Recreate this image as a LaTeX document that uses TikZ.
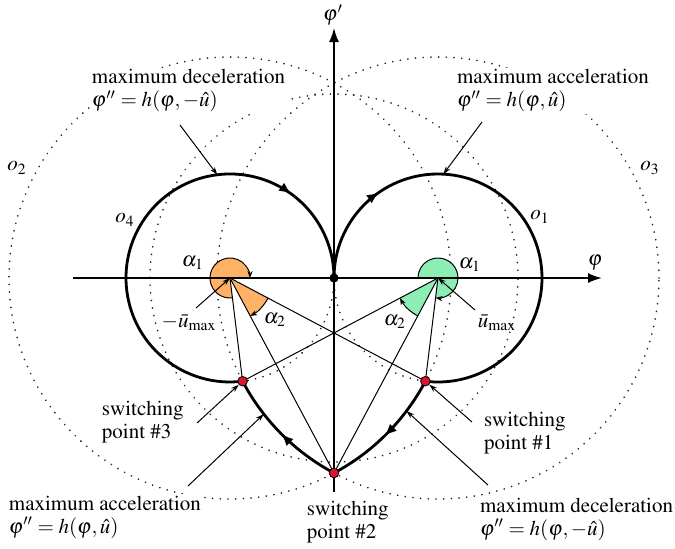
\documentclass[tikz,border=0pt]{standalone}
\usepackage[T1]{fontenc}
\usepackage{mathptmx}
\usetikzlibrary{arrows.meta,decorations.markings}
\definecolor{orng}{RGB}{255,178,102}
\definecolor{grn}{RGB}{140,238,180}
\definecolor{swred}{RGB}{220,20,50}
\begin{document}
\begin{tikzpicture}[x=0.5pt,y=0.5pt,
 every node/.style={font=\fontsize{10.5}{11.5}\selectfont},
 dotc/.style={line width=0.9pt, dash pattern=on 0.05pt off 3.8pt, line cap=round, black!85},
 traj/.style={line width=1.4pt},
 ray/.style={line width=0.5pt},
 axisline/.style={line width=0.9pt, -{Latex[length=7pt,width=5pt]}},
 lbl/.style={align=left, inner sep=0.8pt, fill=white},
 ptr/.style={line width=0.5pt, -{Stealth[length=4pt,width=2.6pt]}},
 angarr/.style={line width=0.5pt, -{Stealth[length=3.5pt,width=2.6pt]}},
 swpt/.style={circle, draw=black, line width=0.4pt, fill=swred, inner sep=0pt, minimum size=4.8pt},
 midarrow/.style={postaction={decorate}, decoration={markings, mark=at position #1 with {\arrow{Latex[length=6pt,width=5pt]}}}},
]
\useasboundingbox (-334,-270) rectangle (341,278);
% key points
\coordinate (O) at (0,0);
\coordinate (CL) at (-104,0);
\coordinate (CR) at (104,0);
\coordinate (S1) at (91.4,-103.2);
\coordinate (S3) at (-91.4,-103.2);
\coordinate (S2) at (0,-195);
% dotted circles
\draw[dotc] (CL) circle[radius=104];
\draw[dotc] (CR) circle[radius=104];
\draw[dotc] (CL) circle[radius=221];
\draw[dotc] (CR) circle[radius=221];
\draw[dotc] (O) circle[radius=184];
% angle sectors
\fill[orng] (CL) -- ++(0:20) arc[start angle=0, end angle=276.96, radius=20] -- cycle;
\fill[orng] (CL) -- ++(-27.84:43) arc[start angle=-27.84, end angle=-61.93, radius=43] -- cycle;
\fill[grn] (CR) -- ++(-96.96:20) arc[start angle=-96.96, end angle=180, radius=20] -- cycle;
\fill[grn] (CR) -- ++(207.84:43) arc[start angle=207.84, end angle=241.93, radius=43] -- cycle;
% rays
\draw[ray] (CL) -- (S1);
\draw[ray] (CL) -- (S2);
\draw[ray] (CL) -- (S3);
\draw[ray] (CR) -- (S1);
\draw[ray] (CR) -- (S2);
\draw[ray] (CR) -- (S3);
% angle arcs
\draw[angarr] (CL) ++(276.96:20) arc[start angle=276.96, end angle=0, radius=20];
\draw[angarr] (CL) ++(-27.84:43) arc[start angle=-27.84, end angle=-61.93, radius=43];
\draw[angarr] (CR) ++(180:20) arc[start angle=180, end angle=-96.96, radius=20];
\draw[angarr] (CR) ++(241.93:43) arc[start angle=241.93, end angle=207.84, radius=43];
% axes
\coordinate (xa0) at (-261,0);
\coordinate (xa1) at (268,0);
\coordinate (ya0) at (0,-214);
\coordinate (ya1) at (0,250);
\draw[axisline] (xa0) -- (xa1);
\draw[axisline] (ya0) -- (ya1);
% trajectory
\draw[traj, midarrow=0.805] (S3) arc[start angle=-83.04, end angle=-360, radius=104];
\draw[traj, midarrow=0.2] (O) arc[start angle=180, end angle=-96.96, radius=104];
\draw[traj, midarrow=0.5] (S2) arc[start angle=241.93, end angle=207.84, radius=221];
\draw[traj, midarrow=0.52] (S1) arc[start angle=-27.84, end angle=-61.93, radius=221];
% points
\node[circle, fill=black, inner sep=0pt, minimum size=4.6pt] (o) at (O) {};
\node[swpt] (s1) at (S1) {};
\node[swpt] (s2) at (S2) {};
\node[swpt] (s3) at (S3) {};
% axis labels
\node (phi) at (261,15) {$\varphi$};
\node (phid) at (-1,263) {$\varphi'$};
% circle labels
\node (o2) at (-317,110) {$o_2$};
\node (o4) at (-209,58) {$o_4$};
\node (o1) at (206,61) {$o_1$};
\node (o3) at (316,110) {$o_3$};
% angle labels
\node (a1l) at (-141,15) {$\alpha_1$};
\node (a1r) at (136,13) {$\alpha_1$};
\node (a2l) at (-59,-42) {$\alpha_2$};
\node (a2r) at (61,-44) {$\alpha_2$};
\node (uml) at (-145,-45) {$-\bar{u}_{\max}$};
\node (umr) at (163,-45) {$\bar{u}_{\max}$};
\coordinate (umlt) at (-138,-30);
\coordinate (umrt) at (141,-32);
\draw[ptr] (umlt) -- (CL);
\draw[ptr] (umrt) -- (CR);
% text labels
\node[lbl, anchor=west] (tl) at (-244,187) {maximum deceleration\\$\varphi'' = h(\varphi,-\hat{u})$};
\node[lbl, anchor=west] (tr) at (121,187) {maximum acceleration\\$\varphi'' = h(\varphi,\hat{u})$};
\node[lbl, anchor=west] (bl) at (-327,-239) {maximum acceleration\\$\varphi'' = h(\varphi,\hat{u})$};
\node[lbl, anchor=west] (br) at (144,-241) {maximum deceleration\\$\varphi'' = h(\varphi,-\hat{u})$};
\node[lbl, anchor=west] (sp3) at (-234,-144) {switching\\point \#3};
\node[lbl, anchor=west] (sp1) at (148,-155) {switching\\point \#1};
\node[lbl, anchor=west] (sp2) at (-29,-244) {switching\\point \#2};
% pointer arrows
\coordinate (tlt) at (-154,153);
\coordinate (tlh) at (-116.7,103.2);
\coordinate (trt) at (148,156);
\coordinate (trh) at (109.4,103.9);
\coordinate (blt) at (-146,-208);
\coordinate (blh) at (-70.2,-136.1);
\coordinate (brt) at (154,-207);
\coordinate (brh) at (72.5,-133);
\coordinate (sp3t) at (-137,-145);
\coordinate (sp1t) at (138,-144);
\draw[ptr] (tlt) -- (tlh);
\draw[ptr] (trt) -- (trh);
\draw[ptr] (blt) -- (blh);
\draw[ptr] (brt) -- (brh);
\draw[ptr] (sp3t) -- (s3);
\draw[ptr] (sp1t) -- (s1);
\end{tikzpicture}
\end{document}
